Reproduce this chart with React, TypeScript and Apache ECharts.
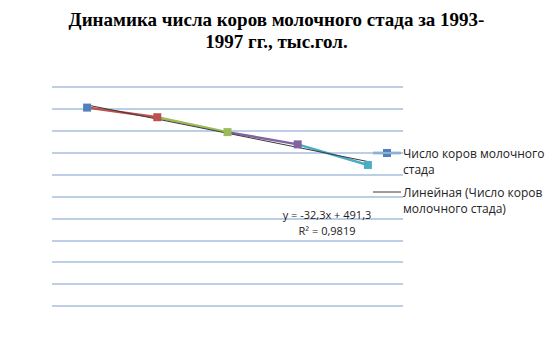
import React, { useEffect, useRef } from "react";
import * as echarts from "echarts";

const years = ["1993", "1994", "1995", "1996", "1997"];
const cows = [453, 431, 397, 369, 322];
const pointColors = ["#4F81BD", "#C0504D", "#9BBB59", "#8064A2", "#4BACC6"];
const trendSlope = -32.3;
const trendIntercept = 491.3;
const seriesName = "Число коров молочного стада";
const trendName = "Линейная (Число коров молочного стада)";
const titleText = "Динамика числа коров молочного стада за 1993-\n1997 гг., тыс.гол.";
const eqLines = ["y = -32,3x + 491,3", "R² = 0,9819"];

export default function App() {
  const ref = useRef<HTMLDivElement>(null);
  useEffect(() => {
    document.body.style.margin = "0";
    const chart = echarts.init(ref.current!, null, { renderer: "svg" });
    const trend = years.map((_, i) => trendSlope * (i + 1) + trendIntercept);
    const segSeries = years.slice(1).map((_, k) => ({
      type: "line",
      name: "seg" + k,
      data: cows.map((v, i) => (i === k || i === k + 1 ? v : null)),
      symbol: "none",
      lineStyle: { color: pointColors[k + 1], width: 2.5 },
      z: 3,
      silent: true,
    }));
    const font = "'Open Sans', 'Noto Sans', sans-serif";
    chart.setOption({
      animation: false,
      title: {
        text: titleText,
        left: "center",
        top: 3,
        textStyle: {
          fontFamily: "'Liberation Serif', serif",
          fontWeight: "bold",
          fontSize: 19,
          lineHeight: 22,
          color: "#000",
        },
      },
      grid: { left: 52, right: 150, top: 87, bottom: 54 },
      xAxis: {
        type: "category",
        data: years,
        axisLine: { show: false },
        axisTick: { show: false },
        axisLabel: { show: false },
      },
      yAxis: {
        type: "value",
        min: 0,
        max: 500,
        interval: 50,
        axisLabel: { show: false },
        axisLine: { show: false },
        splitLine: { lineStyle: { color: "#A7BFDE", width: 1.5 } },
      },
      series: [
        ...segSeries,
        {
          type: "line",
          name: trendName,
          data: trend,
          symbol: "none",
          lineStyle: { color: "#3a3a3a", width: 1 },
          z: 4,
        },
        {
          type: "line",
          name: seriesName,
          data: cows.map((v, i) => ({ value: v, itemStyle: { color: pointColors[i] } })),
          symbol: "rect",
          symbolSize: 8,
          lineStyle: { opacity: 0 },
          z: 5,
        },
      ],
      graphic: [
        { type: "line", shape: { x1: 373, y1: 153, x2: 401, y2: 153 }, style: { stroke: "#4F81BD", lineWidth: 2.5 } },
        { type: "rect", shape: { x: 383, y: 149, width: 8, height: 8 }, style: { fill: "#4F81BD" } },
        {
          type: "text",
          left: 403,
          top: 145,
          style: { text: "Число коров молочного\nстада", font: `12px ${font}`, lineHeight: 16, fill: "#222" },
        },
        { type: "line", shape: { x1: 373, y1: 192, x2: 401, y2: 192 }, style: { stroke: "#3a3a3a", lineWidth: 1 } },
        {
          type: "text",
          left: 403,
          top: 184,
          style: { text: "Линейная (Число коров\nмолочного стада)", font: `12px ${font}`, lineHeight: 16, fill: "#222" },
        },
        {
          type: "text",
          x: 327,
          y: 214,
          style: { text: eqLines[0], font: `11px ${font}`, fill: "#222", align: "center", verticalAlign: "middle" },
          z: 10,
        },
        {
          type: "text",
          x: 327,
          y: 230,
          style: { text: eqLines[1], font: `11px ${font}`, fill: "#222", align: "center", verticalAlign: "middle" },
          z: 10,
        },
      ],
    });
    return () => chart.dispose();
  }, []);
  return <div ref={ref} style={{ width: 553, height: 360 }} />;
}
